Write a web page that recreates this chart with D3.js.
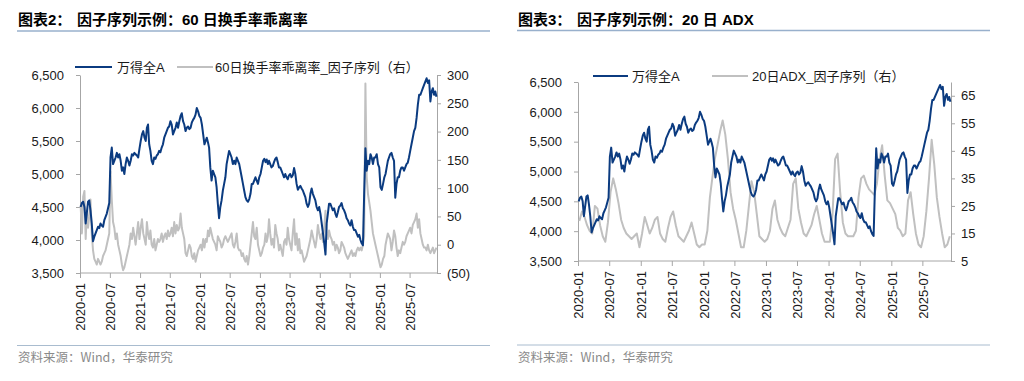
<!DOCTYPE html>
<html><head><meta charset="utf-8">
<script src="https://cdn.jsdelivr.net/npm/d3@7"></script>
<style>
body{margin:0;background:#fff;}
svg{display:block;}
</style></head><body>
<svg id="c" width="1024" height="381"></svg>
<script>
// ---------------- DATA ----------------
const firstMonth = "2020-01";
const lastDate = "2025-12-15";
const xTickLabels = ["2020-01","2020-07","2021-01","2021-07","2022-01","2022-07","2023-01","2023-07","2024-01","2024-07","2025-01","2025-07"];
const indexTicks = [3500,4000,4500,5000,5500,6000,6500];
const turnoverTicks = [-50,0,50,100,150,200,250,300];
const adxTicks = [5,15,25,35,45,55,65];

// 万得全A, weekly readings grouped by month (2020-01 .. 2025-12)
const windA = [
 [4500,4560,4580,4500],[4250,4420,4580,4600],[4450,4250,3980,4050],[4100,4150,4200,4180],[4250,4220,4200,4300],[4350,4400,4480,4560],
 [5250,5400,5150,5200],[5250,5320,5250,5300],[5200,5050,5100,5000],[5150,5250,5200,5130],[5200,5300,5280,5320],[5300,5280,5250,5380],
 [5500,5600,5650,5550],[5500,5700,5750,5450],[5350,5200,5150,5250],[5230,5280,5300,5350],[5330,5400,5450,5550],[5600,5650,5700,5720],
 [5800,5750,5600,5650],[5700,5780,5700,5800],[5880,5920,5800,5750],[5650,5700,5720,5680],[5700,5780,5820,5850],[5900,6000,5950,5880],
 [5850,5750,5600,5450],[5500,5550,5480,5400],[5100,4900,5050,5000],[4950,4800,4550,4330],[4500,4600,4750,4850],[4950,5150,5250,5350],
 [5300,5250,5150,5200],[5150,5250,5200,5150],[5050,4950,4850,4750],[4650,4600,4580,4620],[4700,4850,4850,4900],[4950,4900,4850,4950],
 [5000,5100,5200,5230],[5180,5220,5150,5200],[5150,5100,5120,5180],[5230,5250,5180,5100],[5100,5050,5000,4950],[5000,4950,4920,4980],
 [5000,4950,4980,5090],[5000,4850,4760,4800],[4820,4780,4750,4700],[4650,4550,4500,4550],[4700,4780,4700,4650],[4600,4500,4450,4500],
 [4400,4250,4100,3950],[3780,4250,4400,4550],[4550,4500,4450,4480],[4400,4350,4420,4500],[4520,4560,4480,4450],[4400,4330,4300,4250],
 [4220,4300,4200,4150],[4150,4100,4050,4080],[4000,3950,3920,4700],[5390,5050,5200,5150],[5300,5250,5150,5250],[5250,5300,5150,5100],
 [4800,4760,4850,4950],[5000,5100,5200,5250],[5300,5320,5250,5200],[4640,4850,4950,4950],[5050,5100,5100,5050],[5100,5150,5170,5250],
 [5350,5450,5550,5650],[5700,5850,6050,6200],[6200,6250,6300,6350],[6400,6450,6380,6420],[6100,6250,6300,6200],[6250,6170]
];

// 60日换手率乖离率_因子序列, weekly readings grouped by month
const turnoverDev = [
 [70,20,85,95],[10,60,30,50],[80,20,-10,-25],[-30,-35,-25,-30],[-35,-30,-20,-15],[-10,0,10,20],
 [130,80,40,30],[10,20,0,-10],[-20,-35,-45,-40],[-30,-20,-10,0],[20,10,30,15],[0,20,40,10],
 [30,45,20,10],[0,40,20,10],[25,0,-5,10],[-10,0,10,5],[10,20,5,15],[20,10,25,15],
 [20,30,15,40],[20,35,25,30],[55,30,20,10],[-15,-20,-10,0],[-5,-20,-25,-15],[-30,-20,-10,-5],
 [0,-10,10,-5],[10,5,25,15],[30,20,10,5],[0,-10,15,10],[5,-5,0,10],[15,10,5,10],
 [15,20,0,-5],[5,20,-5,-10],[-10,-20,-15,-25],[-30,-20,-35,-20],[0,20,40,15],[10,30,0,-10],
 [-20,-15,-5,0],[20,5,15,45],[20,0,10,-5],[35,20,10,-10],[0,-10,-20,5],[10,0,30,10],
 [0,-10,20,45],[0,20,-10,10],[-15,-10,-20,-30],[-25,-20,-10,0],[10,25,15,5],[-5,10,35,20],
 [10,20,5,30],[60,20,10,25],[15,10,0,5],[-10,0,-5,-15],[-10,5,0,-5],[-15,-20,-25,-20],
 [-15,-10,-20,-15],[-20,-10,-5,-10],[-5,-10,0,15],[285,120,90,75],[60,40,20,10],[0,-10,-20,-30],
 [-40,-35,-25,-20],[0,10,20,15],[10,-10,5,25],[15,-5,-20,-10],[-15,-5,5,0],[5,15,20,25],
 [30,20,35,40],[45,55,30,45],[20,10,0,-5],[-5,-10,0,-10],[-15,-10,-5,-15],[-10,-5]
];

// 20日ADX_因子序列, half-month readings grouped by month
const adx20 = [
 [19.5,23],[21,18],[16,15],[25,24],[18,14],[12,19],
 [30,35],[31,26],[20,17],[15,14],[13,14],[15,10],
 [15,21],[18,15],[17,20],[21,15],[13,12],[17,21],
 [23,18],[14,13],[12,14],[16,19],[15,11],[10,11],
 [11,16],[28,35],[42,47],[52,56],[51,42],[30,24],
 [20,15],[10,10],[16,25],[34,30],[22,14],[13,12],
 [13,16],[24,27],[20,17],[15,14],[17,20],[33,35],
 [24,19],[15,14],[16,18],[22,25],[20,15],[12,12],
 [12,22],[42,44],[30,19],[15,14],[14,14],[16,28],
 [35,36],[33,31],[30,29],[33,42],[47,36],[27,26],
 [24,22],[17,16],[14,15],[27,30],[22,15],[11,10],
 [14,23],[35,49],[40,28],[21,15],[10,11],[14]
];

// ---------------- HELPERS ----------------
const parseM = d3.timeParse("%Y-%m");
const parseD = d3.timeParse("%Y-%m-%d");
const start = parseM(firstMonth);
const end = parseD(lastDate);

function expand(monthly){
  const out = [];
  monthly.forEach((vals, i) => {
    const m0 = d3.timeMonth.offset(start, i);
    let m1 = d3.timeMonth.offset(start, i + 1);
    if (m1 > end) m1 = end;
    const span = m1 - m0;
    vals.forEach((v, j) => {
      out.push({date: new Date(+m0 + (j + 0.5) / vals.length * span), v});
    });
  });
  return out;
}
const sIndex = expand(windA);
const sTurn = expand(turnoverDev);
const sAdx = expand(adx20);

const BLUE = "#0b3b80", GREY = "#c0c0c0", AXIS = "#a6a6a6", TXT = "#1a1a1a";
const FONT = "'Liberation Sans', Arial, 'Noto Sans CJK SC', sans-serif";
const CJK = "'Liberation Sans', Arial, 'Noto Sans CJK SC', sans-serif";
const svg = d3.select("#c");

function panel(cfg){
  const g = svg.append("g");
  // title
  const t = g.append("text").attr("y", cfg.titleY).attr("font-family", CJK)
    .attr("font-size", 15).attr("font-weight", "bold").attr("fill", "#000");
  t.append("tspan").attr("x", cfg.titleX).text(cfg.titleA);
  t.append("tspan").attr("x", cfg.titleX2).text(cfg.titleB);
  g.append("line").attr("x1", cfg.frameX0).attr("x2", cfg.frameX1)
    .attr("y1", cfg.titleLineY).attr("y2", cfg.titleLineY)
    .attr("stroke", "#98b0cc").attr("stroke-width", 1.6);
  // footer
  g.append("line").attr("x1", cfg.frameX0).attr("x2", cfg.frameX1)
    .attr("y1", cfg.footLineY).attr("y2", cfg.footLineY)
    .attr("stroke", "#a9bccf").attr("stroke-width", 1);
  g.append("text").attr("x", cfg.titleX).attr("y", cfg.footY)
    .attr("font-family", "'Noto Sans CJK SC', sans-serif").attr("font-size", 12.5)
    .attr("fill", "#8a8a8a").text("资料来源：Wind，华泰研究");

  const x = d3.scaleTime().domain([start, end]).range([cfg.x0, cfg.x1]);
  const yL = d3.scaleLinear().domain([3500, 6500]).range([cfg.yb, cfg.yt]);
  const yR = d3.scaleLinear().domain(cfg.rDomain).range([cfg.yb, cfg.yt]);

  // axes
  const ax = (sel) => {
    sel.selectAll("path,line").attr("stroke", AXIS);
    sel.selectAll("text").attr("font-family", FONT).attr("font-size", 13).attr("fill", TXT);
  };
  g.append("g").attr("transform", `translate(${cfg.x0},0)`)
    .call(d3.axisLeft(yL).tickValues(indexTicks).tickFormat(d3.format(",")).tickSize(4).tickSizeOuter(0).tickPadding(12))
    .call(ax);
  g.append("g").attr("transform", `translate(${cfg.x1},0)`)
    .call(d3.axisRight(yR).tickValues(cfg.rTicks).tickFormat(cfg.rFmt).tickSize(4).tickSizeOuter(0).tickPadding(6))
    .call(ax);
  const xa = g.append("g").attr("transform", `translate(0,${cfg.yb})`)
    .call(d3.axisBottom(x).tickValues(xTickLabels.map(parseM)).tickFormat(d3.timeFormat("%Y-%m")).tickSize(5).tickSizeOuter(0))
    .call(ax);
  xa.selectAll(".tick text")
    .attr("text-anchor", "end").attr("transform", "rotate(-90)")
    .attr("x", -cfg.xLabGap).attr("y", 0).attr("dy", "0.36em");
  xa.select(".domain").attr("d", `M${cfg.x0},0H${cfg.x1}`);

  // series
  const lineR = d3.line().x(d => x(d.date)).y(d => yR(d.v));
  const lineL = d3.line().x(d => x(d.date)).y(d => yL(d.v));
  g.append("path").datum(cfg.rSeries).attr("d", lineR).attr("fill", "none")
    .attr("stroke", GREY).attr("stroke-width", 2).attr("stroke-linejoin", "round");
  g.append("path").datum(sIndex).attr("d", lineL).attr("fill", "none")
    .attr("stroke", BLUE).attr("stroke-width", 2).attr("stroke-linejoin", "round");

  // legend
  const lg = g.append("g").attr("font-family", CJK).attr("font-size", 13).attr("fill", TXT);
  lg.append("line").attr("x1", cfg.leg[0]).attr("x2", cfg.leg[1]).attr("y1", cfg.legY).attr("y2", cfg.legY)
    .attr("stroke", BLUE).attr("stroke-width", 2.2);
  lg.append("text").attr("x", cfg.leg[2]).attr("y", cfg.legY).attr("dy", "0.36em").text("万得全A");
  lg.append("line").attr("x1", cfg.leg[3]).attr("x2", cfg.leg[4]).attr("y1", cfg.legY).attr("y2", cfg.legY)
    .attr("stroke", GREY).attr("stroke-width", 2.2);
  lg.append("text").attr("x", cfg.leg[5]).attr("y", cfg.legY).attr("dy", "0.36em").text(cfg.legText);
}

panel({
  titleX: 18, titleX2: 77, titleY: 25, titleA: "图表2：", titleB: "因子序列示例：60 日换手率乖离率",
  frameX0: 17, frameX1: 490, titleLineY: 31, footLineY: 345.5, footY: 362,
  x0: 80, x1: 437, yt: 75, yb: 273, xLabGap: 10,
  rDomain: [-50, 300], rTicks: turnoverTicks, rFmt: d => d < 0 ? `(${-d})` : d3.format(",")(d),
  rSeries: sTurn,
  leg: [75, 112, 117, 177, 213, 215], legY: 67, legText: "60日换手率乖离率_因子序列（右）"
});
panel({
  titleX: 518, titleX2: 577, titleY: 25, titleA: "图表3：", titleB: "因子序列示例：20 日 ADX",
  frameX0: 517, frameX1: 990, titleLineY: 30.5, footLineY: 345, footY: 362,
  x0: 578, x1: 951, yt: 82, yb: 261, xLabGap: 10,
  rDomain: [5, 70], rTicks: adxTicks, rFmt: d3.format("d"),
  rSeries: sAdx,
  leg: [593, 628, 632, 712, 748, 752], legY: 76, legText: "20日ADX_因子序列（右）"
});
</script>
</body></html>
